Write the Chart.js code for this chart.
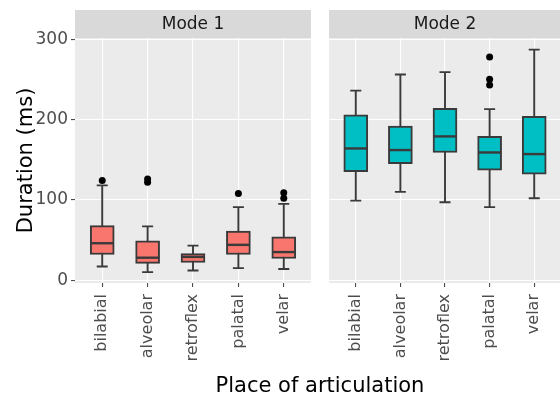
<!DOCTYPE html>
<html>
<head>
<meta charset="utf-8">
<script src="https://cdn.jsdelivr.net/npm/chart.js@4.4.1/dist/chart.umd.min.js"></script>
<style>
  html, body { margin: 0; padding: 0; background: #fff; }
  body { width: 560px; height: 399px; overflow: hidden; position: relative; }
  #wrap1 { position: absolute; left: 0; top: 0; width: 315px; height: 399px; }
  #wrap2 { position: absolute; left: 325px; top: 0; width: 240px; height: 399px; }
  #xTitle {
    position: absolute; left: 75px; width: 490px; top: 373px;
    text-align: center; font: 21px "DejaVu Sans", sans-serif; line-height: 24px; color: #000;
  }
</style>
</head>
<body>
<div id="wrap1"><canvas id="mode1"></canvas></div>
<div id="wrap2"><canvas id="mode2"></canvas></div>
<div id="xTitle">Place of articulation</div>
<script>
// ---- data
const categories = ["bilabial", "alveolar", "retroflex", "palatal", "velar"];
const yTicks = [0, 100, 200, 300];

const mode1Low = [17, 10, 12, 15, 14];
const mode1Q1 = [32, 21, 22, 32, 27];
const mode1Median = [46, 28, 29, 44, 35];
const mode1Q3 = [68, 49, 33, 61, 54];
const mode1High = [118, 67, 43, 91, 95];
const mode1Outliers = [[124], [122, 126], [], [108], [102, 109]];

const mode2Low = [99, 110, 97, 91, 102];
const mode2Q1 = [135, 145, 159, 137, 132];
const mode2Median = [164, 162, 179, 159, 157];
const mode2Q3 = [206, 192, 214, 179, 204];
const mode2High = [236, 256, 259, 213, 287];
const mode2Outliers = [[], [], [], [243, 250, 278], []];

const FONT = "'DejaVu Sans', sans-serif";
const LINE = "#3a3a3a";

// panel background + strip label
const panelPlugin = {
  id: "panelPlugin",
  beforeDraw(chart, args, opts) {
    const { ctx, chartArea: a } = chart;
    ctx.save();
    ctx.fillStyle = "#d9d9d9";
    ctx.fillRect(a.left, 10, a.right - a.left, a.top - 10);
    ctx.fillStyle = "#ebebeb";
    ctx.fillRect(a.left, a.top, a.right - a.left, a.bottom - a.top);
    ctx.fillStyle = "#1a1a1a";
    ctx.font = "17px " + FONT;
    ctx.textAlign = "center";
    ctx.textBaseline = "middle";
    ctx.fillText(opts.label, (a.left + a.right) / 2, (10 + a.top) / 2 + 1);
    ctx.restore();
  }
};

// whiskers under the boxes, medians on top
const boxPlugin = {
  id: "boxPlugin",
  beforeDatasetsDraw(chart) {
    const ds = chart.data.datasets[0];
    const x = chart.scales.x, y = chart.scales.y;
    const ctx = chart.ctx;
    ctx.save();
    ctx.strokeStyle = LINE;
    ctx.lineWidth = 1.9;
    ds.low.forEach((lo, i) => {
      const px = x.getPixelForValue(i);
      const yl = y.getPixelForValue(lo), yh = y.getPixelForValue(ds.high[i]);
      ctx.beginPath();
      ctx.moveTo(px, yl); ctx.lineTo(px, yh);
      ctx.moveTo(px - 5.5, yl); ctx.lineTo(px + 5.5, yl);
      ctx.moveTo(px - 5.5, yh); ctx.lineTo(px + 5.5, yh);
      ctx.stroke();
    });
    ctx.restore();
  },
  afterDatasetsDraw(chart) {
    const ds = chart.data.datasets[0];
    const x = chart.scales.x, y = chart.scales.y;
    const ctx = chart.ctx;
    ctx.save();
    ctx.strokeStyle = LINE;
    ctx.lineWidth = 2.4;
    ds.median.forEach((m, i) => {
      const px = x.getPixelForValue(i);
      const py = y.getPixelForValue(m);
      ctx.beginPath();
      ctx.moveTo(px - 11.5, py); ctx.lineTo(px + 11.5, py);
      ctx.stroke();
    });
    ctx.restore();
  }
};

function makePanel(canvasId, label, fill, low, q1, median, q3, high, outliers, showY) {
  const boxes = categories.map((c, i) => ({ x: i, y: [q1[i], q3[i]] }));
  const pts = [];
  outliers.forEach((arr, i) => arr.forEach(v => pts.push({ x: i, y: v })));

  return new Chart(document.getElementById(canvasId), {
    type: "bar",
    data: {
      datasets: [
        {
          type: "bar",
          data: boxes,
          low, median, high,
          backgroundColor: fill,
          borderColor: LINE,
          borderWidth: 2,
          borderSkipped: false,
          barThickness: 24
        },
        {
          type: "scatter",
          data: pts,
          pointRadius: 3.5,
          pointBackgroundColor: "#000",
          pointBorderWidth: 0
        }
      ]
    },
    plugins: [panelPlugin, boxPlugin],
    options: {
      responsive: true,
      maintainAspectRatio: false,
      animation: false,
      layout: { padding: { top: 38, left: 0, right: 0, bottom: 0 } },
      plugins: {
        legend: { display: false },
        tooltip: { enabled: false },
        panelPlugin: { label }
      },
      scales: {
        x: {
          type: "linear",
          min: -0.6, max: 4.6,
          offset: false,
          afterBuildTicks(s) { s.ticks = categories.map((c, i) => ({ value: i })); },
          afterFit(s) { s.height = 116; },
          border: { display: false },
          grid: { offset: false, color: "#ffffff", lineWidth: 1.1, tickColor: "#4d4d4d", tickLength: 4 },
          ticks: {
            autoSkip: false, minRotation: 90, maxRotation: 90, padding: 7,
            color: "#4d4d4d", font: { family: FONT, size: 16 },
            callback: (v) => categories[v]
          }
        },
        y: {
          min: -3.5, max: 301.5,
          afterBuildTicks(s) { s.ticks = yTicks.map(v => ({ value: v })); },
          afterFit(s) { s.width = showY ? 75 : 0; },
          border: { display: false },
          grid: { color: "#ffffff", lineWidth: 1.1, tickColor: "#4d4d4d", tickLength: 4, drawTicks: showY },
          ticks: {
            display: showY, padding: 3,
            color: "#4d4d4d", font: { family: FONT, size: 17 }
          },
          title: {
            display: showY, text: "Duration (ms)", color: "#000",
            font: { family: FONT, size: 21 }, padding: { top: 14, bottom: 0 }
          }
        }
      }
    }
  });
}

makePanel("mode1", "Mode 1", "#f8766d", mode1Low, mode1Q1, mode1Median, mode1Q3, mode1High, mode1Outliers, true);
makePanel("mode2", "Mode 2", "#00bfc4", mode2Low, mode2Q1, mode2Median, mode2Q3, mode2High, mode2Outliers, false);
</script>
</body>
</html>
